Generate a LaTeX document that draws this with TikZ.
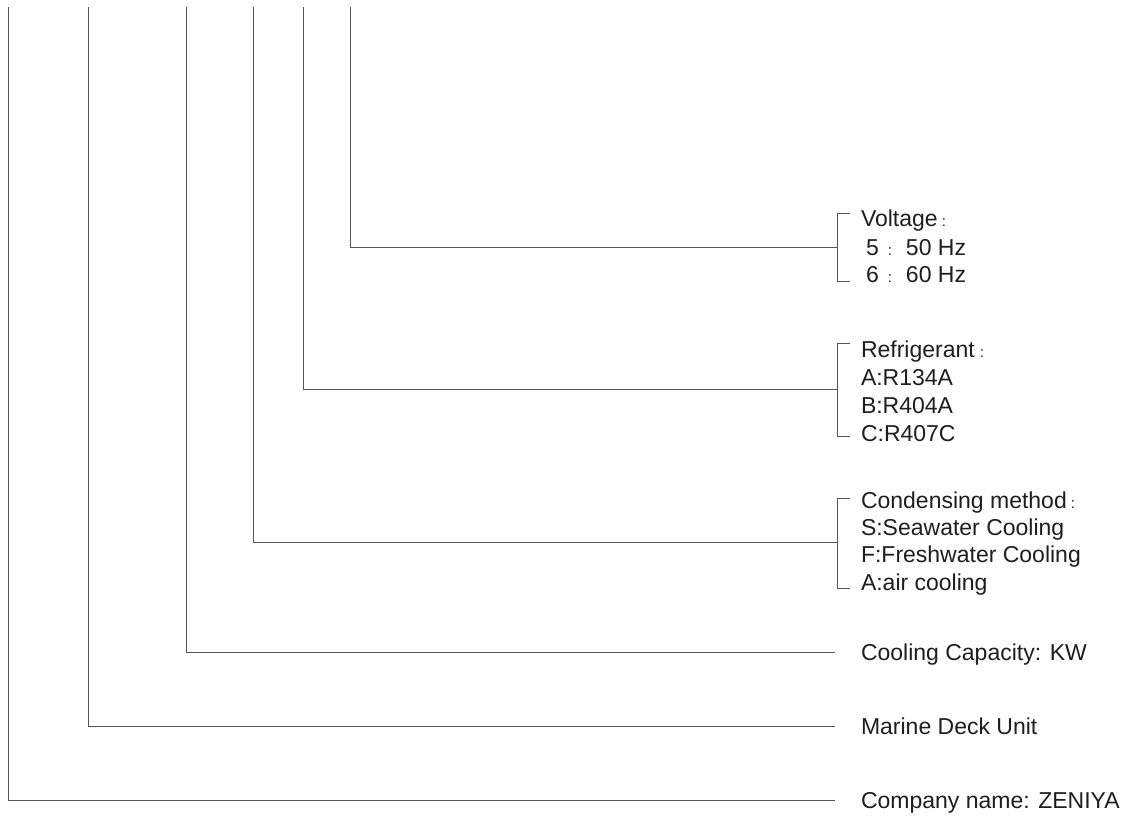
\documentclass[tikz,border=0pt]{standalone}
\usepackage{fontspec}
\setmainfont{Liberation Sans}
\newcommand{\smcolon}{{\fontsize{15pt}{15pt}\selectfont :}}
\begin{document}
\begin{tikzpicture}[x=1pt,y=-1pt,
  conn/.style={draw={rgb,255:red,85;green,85;blue,85},line width=0.9pt},
  lbl/.style={anchor=base west,inner sep=0pt,outer sep=0pt,text={rgb,255:red,30;green,30;blue,30},font=\fontsize{23pt}{28pt}\selectfont}]
\useasboundingbox[fill=white] (0,0) rectangle (1129,818);
% vertical start points
\coordinate (t1) at (8.5,7);
\coordinate (t2) at (88,7);
\coordinate (t3) at (186,7);
\coordinate (t4) at (253.5,7);
\coordinate (t5) at (303,7);
\coordinate (t6) at (350,7);
% ends
\coordinate (e1) at (835,800);
\coordinate (e2) at (835,726.5);
\coordinate (e3) at (835,652);
\coordinate (e4) at (837,542);
\coordinate (e5) at (837,389);
\coordinate (e6) at (837,247);
% brackets
\coordinate (b4a) at (850,498);
\coordinate (b4b) at (850,588);
\coordinate (b5a) at (850,343);
\coordinate (b5b) at (850,436);
\coordinate (b6a) at (850,213);
\coordinate (b6b) at (850,281);

\draw[conn] (t1) |- (e1);
\draw[conn] (t2) |- (e2);
\draw[conn] (t3) |- (e3);
\draw[conn] (t4) |- (e4);
\draw[conn] (t5) |- (e5);
\draw[conn] (t6) |- (e6);
\draw[conn] (b4a) -| (e4) |- (b4b);
\draw[conn] (b5a) -| (e5) |- (b5b);
\draw[conn] (b6a) -| (e6) |- (b6b);

% texts
\node[lbl] (v1) at (861,227) {Voltage\hspace{4pt}\smcolon};
\node[lbl] (v2) at (861,255) {\hspace{5pt}5\hspace{9pt}\smcolon\hspace{14pt}50 Hz};
\node[lbl] (v3) at (861,283) {\hspace{5pt}6\hspace{9pt}\smcolon\hspace{14pt}60 Hz};
\node[lbl] (r1) at (861,357) {Refrigerant\hspace{5pt}\smcolon};
\node[lbl] (r2) at (861,385) {A:R134A};
\node[lbl] (r3) at (861,413) {B:R404A};
\node[lbl] (r4) at (861,441) {C:R407C};
\node[lbl] (c1) at (861,508) {Condensing method\hspace{4pt}\smcolon};
\node[lbl] (c2) at (861,535) {S:Seawater Cooling};
\node[lbl] (c3) at (861,562) {F:Freshwater Cooling};
\node[lbl] (c4) at (861,590) {A:air cooling};
\node[lbl] (cap) at (861,660) {Cooling Capacity: KW};
\node[lbl] (mdu) at (861,734) {Marine Deck Unit};
\node[lbl] (cn) at (861,808) {Company name: ZENIYA};
\end{tikzpicture}
\end{document}
